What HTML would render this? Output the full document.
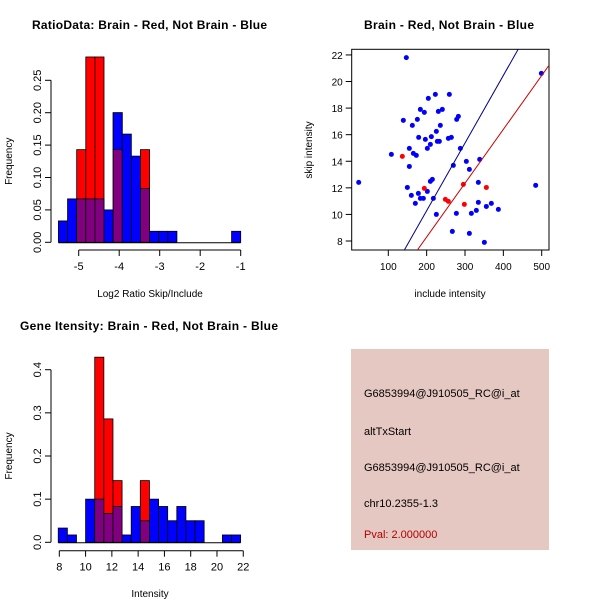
<!DOCTYPE html>
<html><head><meta charset="utf-8"><style>
html,body{margin:0;padding:0;background:#fff;}
svg{display:block;font-family:"Liberation Sans",sans-serif;}
</style></head><body>
<svg id="c" width="600" height="600" viewBox="0 0 600 600">
<text x="32" y="29" font-size="12" font-weight="bold" textLength="235">RatioData: Brain - Red, Not Brain - Blue</text>
<text x="449" y="29" font-size="12" font-weight="bold" text-anchor="middle" textLength="170">Brain - Red, Not Brain - Blue</text>
<text x="20" y="330" font-size="12" font-weight="bold" textLength="258">Gene Itensity: Brain - Red, Not Brain - Blue</text>
<g id="g1"></g>
<g id="g2"></g>
<g id="g3"></g>
<g>
<rect x="351" y="349" width="198" height="201" fill="#e6c8c2"/>
<g font-size="11" fill="#000">
<text x="364" y="397">G6853994@J910505_RC@i_at</text>
<text x="364" y="435">altTxStart</text>
<text x="364" y="471">G6853994@J910505_RC@i_at</text>
<text x="364" y="507">chr10.2355-1.3</text>
<text x="364" y="538" fill="#b00000">Pval: 2.000000</text>
</g></g>
</svg>
<script>
// Ratio histogram data
const ratioStart=-5.5, ratioBinW=0.225;
const ratioBlue=[0.033,0.067,0.067,0.067,0.067,0.05,0.2,0.167,0.133,0.083,0.017,0.017,0.017,0,0,0,0,0,0,0.017];
const ratioRed=[0,0,0.143,0.286,0.286,0,0.143,0,0,0.143,0,0,0,0,0,0,0,0,0,0];
const ratioXTicks=[-5,-4,-3,-2,-1];
const ratioYTicks=["0.00","0.05","0.10","0.15","0.20","0.25"];
// Intensity histogram data
const intStart=7.92, intBinW=0.694;
const intBlue=[0.033,0.017,0,0.1,0.1,0.067,0.083,0.017,0.083,0.05,0.1,0.083,0.05,0.083,0.05,0.05,0,0,0.017,0.017];
const intRed=[0,0,0,0,0.429,0.286,0.143,0,0,0.143,0,0,0,0,0,0,0,0,0,0];
const intXTicks=[8,10,12,14,16,18,20,22];
const intYTicks=["0.0","0.1","0.2","0.3","0.4"];
// Scatter data
const blueX=[147,22.8,108,139.2,162.7,175.8,183.6,194,204.4,222.7,259.2,230.5,240.9,278.3,282.7,235.7,225.3,212.3,196.6,179.2,154.9,165.3,173.1,201.8,209.7,227.9,233.1,256.6,264.4,287.9,303.5,311.4,338.3,269.6,154.9,149.7,160.1,170.5,178.4,183.6,191.4,201.8,209.7,214.9,217.5,225.3,277.5,267,311.4,316.6,329.6,334.8,334.8,355.7,368.7,387,350.5,484.3,499.1];
const blueY=[21.8,12.41,14.52,17.08,16.7,17.15,17.9,17.68,18.73,19.03,19.03,17.75,17.9,17.15,17.38,16.7,16.25,15.85,15.65,15.8,14.97,14.59,14.44,14.97,15.27,15.5,15.5,15.72,15.8,14.97,13.99,13.39,14.14,13.69,13.61,12.03,11.43,10.83,11.58,11.21,11.21,11.73,12.49,12.64,11.21,10,10.08,8.72,8.57,10.08,10.3,10.91,12.41,10.6,10.83,10.38,7.9,12.19,20.61];
const redX=[136.6,194,248.8,256.6,295.7,298.3,355.7];
const redY=[14.37,11.96,11.13,10.98,12.26,10.76,12.03];
const blueFit=[0.10,0.0509];
const redFit=[0.20,0.0405];
const scXTicks=[100,200,300,400,500];
const scYTicks=[8,10,12,14,16,18,20,22];

const NS="http://www.w3.org/2000/svg";
function mk(p,t,a){const e=document.createElementNS(NS,t);for(const k in a)e.setAttribute(k,a[k]);p.appendChild(e);return e;}

function hist(g,start,bw,blue,red,xs,x0,y0,xt,yt,yStep,xl,xAxisY,yAxisX,yMaxTick){
  const X=v=>xs(v),Y=v=>y0-v*yStep;
  for(let i=0;i<blue.length;i++){
    const a=X(start+i*bw),b=X(start+(i+1)*bw),w=b-a;
    const r=red[i],bl=blue[i];
    if(r>0){const e=mk(g,'rect',{x:a,y:Y(r),width:w,height:r*yStep,fill:'#ff0000',stroke:'#000','stroke-width':0.8});
      }
    if(bl>0){const e=mk(g,'rect',{x:a,y:Y(bl),width:w,height:bl*yStep,fill:(r>0?'#800080':'#0000ff'),stroke:'#000','stroke-width':0.8});
      }
    if(r>0&&bl>0&&r<bl){mk(g,'rect',{x:a,y:Y(bl),width:w,height:(bl-r)*yStep,fill:'#0000ff',stroke:'#000','stroke-width':0.8});}
  }
  mk(g,'line',{x1:X(start),x2:X(start+blue.length*bw),y1:y0+0.5,y2:y0+0.5,stroke:'#000'});
  mk(g,'line',{x1:X(xt[0]),x2:X(xt[xt.length-1]),y1:xAxisY,y2:xAxisY,stroke:'#000'});
  xt.forEach(v=>{mk(g,'line',{x1:X(v),x2:X(v),y1:xAxisY,y2:xAxisY+6,stroke:'#000'});
    const t=mk(g,'text',{x:X(v),y:xAxisY+20,'font-size':11,'text-anchor':'middle'});t.textContent=v;
    });
  mk(g,'line',{x1:yAxisX,x2:yAxisX,y1:Y(0),y2:Y(yMaxTick),stroke:'#000'});
  yt.forEach(s=>{const v=parseFloat(s),y=Y(v);mk(g,'line',{x1:yAxisX-6,x2:yAxisX,y1:y,y2:y,stroke:'#000'});
    const t=mk(g,'text',{x:0,y:0,'font-size':11,'text-anchor':'middle',transform:`translate(${yAxisX-10},${y}) rotate(-90)`});t.textContent=s;
    });
  const yl=mk(g,'text',{x:0,y:0,'font-size':10,'text-anchor':'middle',transform:`translate(${yAxisX-39},${(Y(0)+Y(yMaxTick))/2}) rotate(-90)`});yl.textContent='Frequency';
  
  const xlt=mk(g,'text',{x:xl[0],y:xl[1],'font-size':10,'text-anchor':'middle'});xlt.textContent=xl[2];
  
}
const g1=document.getElementById('g1');
hist(g1,ratioStart,ratioBinW,ratioBlue,ratioRed,v=>78.7+(v+5)*40.5,0,242.3,ratioXTicks,ratioYTicks,648,[150,297,'Log2 Ratio Skip/Include'],250,51,0.25);
const g3=document.getElementById('g3');
hist(g3,intStart,intBinW,intBlue,intRed,v=>59.3+(v-8)*13.14,0,542.3,intXTicks,intYTicks,431.5,[150,597,'Intensity'],550.7,51,0.4);

const g2=document.getElementById('g2');
const L=351.7,R=549,T=49.3,B=250;
const SX=v=>388.3+(v-100)*0.3835, SY=v=>241-(v-8)*13.29;
mk(g2,'rect',{x:L,y:T,width:R-L,height:B-T,fill:'none',stroke:'#000'});
scXTicks.forEach(v=>{mk(g2,'line',{x1:SX(v),x2:SX(v),y1:B,y2:B+6,stroke:'#000'});
  const t=mk(g2,'text',{x:SX(v),y:B+20,'font-size':10,'text-anchor':'middle'});t.textContent=v;
  });
scYTicks.forEach(v=>{mk(g2,'line',{x1:L-6,x2:L,y1:SY(v),y2:SY(v),stroke:'#000'});
  const t=mk(g2,'text',{x:L-9,y:SY(v)+4,'font-size':10,'text-anchor':'end'});t.textContent=v;
  });
const xt2=mk(g2,'text',{x:450,y:297,'font-size':10,'text-anchor':'middle'});xt2.textContent='include intensity';

const yt2=mk(g2,'text',{x:0,y:0,'font-size':10,'text-anchor':'middle',transform:'translate(312,150) rotate(-90)'});yt2.textContent='skip intensity';

mk(g2,'clipPath',{id:'clp'});mk(document.getElementById('clp'),'rect',{x:L,y:T,width:R-L,height:B-T});
function fitLine(f,col,name){
  const xa=100+(L-388.3)/0.3835, xb=100+(R-388.3)/0.3835;
  const e=mk(g2,'line',{x1:SX(xa),y1:SY(f[0]+f[1]*xa),x2:SX(xb),y2:SY(f[0]+f[1]*xb),stroke:col,'clip-path':'url(#clp)'});
  
}
blueX.forEach((x,i)=>{const e=mk(g2,'circle',{cx:SX(x),cy:SY(blueY[i]),r:2.5,fill:'#0000ff'});
  });
redX.forEach((x,i)=>{const e=mk(g2,'circle',{cx:SX(x),cy:SY(redY[i]),r:2.5,fill:'#ff0000'});
  });
fitLine(blueFit,'#00008b','blue-fit-line');
fitLine(redFit,'#cc0000','red-fit-line');
</script>
</body></html>
